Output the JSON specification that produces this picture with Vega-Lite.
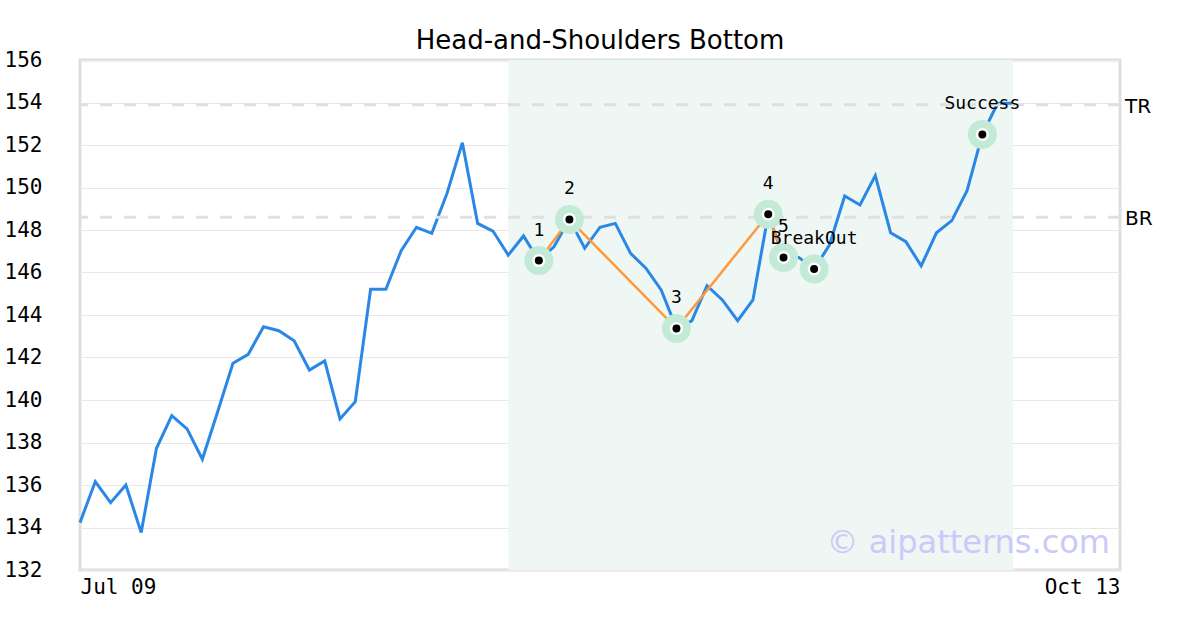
{
  "$schema": "https://vega.github.io/schema/vega-lite/v6.json",
  "autosize": "none",
  "width": 1040,
  "height": 510,
  "padding": {"left": 80, "top": 60, "right": 80, "bottom": 60},
  "background": "white",
  "title": {"text": "Head-and-Shoulders Bottom", "font": "DejaVu Sans", "fontSize": 26, "fontWeight": "normal", "color": "black", "anchor": "middle", "baseline": "alphabetic", "offset": 11, "dy": 37},
  "config": {
    "view": {"stroke": "#dedede", "strokeWidth": 3},
    "axis": {"labelFont": "DejaVu Sans Mono", "labelFontSize": 21, "labelColor": "black", "domain": false, "ticks": false, "tickSize": 0, "title": null, "gridColor": "#e8e8e8", "gridWidth": 1}
  },
  "datasets": {
    "series": [
      {"i": 0, "v": 134.23}, {"i": 1, "v": 136.16}, {"i": 2, "v": 135.17}, {"i": 3, "v": 136.0},
      {"i": 4, "v": 133.76}, {"i": 5, "v": 137.73}, {"i": 6, "v": 139.26}, {"i": 7, "v": 138.64},
      {"i": 8, "v": 137.21}, {"i": 9, "v": 139.45}, {"i": 10, "v": 141.73}, {"i": 11, "v": 142.15},
      {"i": 12, "v": 143.45}, {"i": 13, "v": 143.26}, {"i": 14, "v": 142.79}, {"i": 15, "v": 141.41},
      {"i": 16, "v": 141.84}, {"i": 17, "v": 139.11}, {"i": 18, "v": 139.92}, {"i": 19, "v": 145.21},
      {"i": 20, "v": 145.21}, {"i": 21, "v": 147.03}, {"i": 22, "v": 148.13}, {"i": 23, "v": 147.84},
      {"i": 24, "v": 149.73}, {"i": 25, "v": 152.11}, {"i": 26, "v": 148.31}, {"i": 27, "v": 147.95},
      {"i": 28, "v": 146.82}, {"i": 29, "v": 147.72}, {"i": 30, "v": 146.56}, {"i": 31, "v": 147.22},
      {"i": 32, "v": 148.5}, {"i": 33, "v": 147.14}, {"i": 34, "v": 148.13}, {"i": 35, "v": 148.31},
      {"i": 36, "v": 146.9}, {"i": 37, "v": 146.2}, {"i": 38, "v": 145.18}, {"i": 39, "v": 143.37},
      {"i": 40, "v": 143.72}, {"i": 41, "v": 145.38}, {"i": 42, "v": 144.71}, {"i": 43, "v": 143.73},
      {"i": 44, "v": 144.71}, {"i": 45, "v": 148.74}, {"i": 46, "v": 146.71}, {"i": 47, "v": 146.71},
      {"i": 48, "v": 146.16}, {"i": 49, "v": 147.29}, {"i": 50, "v": 149.6}, {"i": 51, "v": 149.18},
      {"i": 52, "v": 150.56}, {"i": 53, "v": 147.87}, {"i": 54, "v": 147.45}, {"i": 55, "v": 146.31},
      {"i": 56, "v": 147.87}, {"i": 57, "v": 148.44}, {"i": 58, "v": 149.85}, {"i": 59, "v": 152.5},
      {"i": 60, "v": 153.96}, {"i": 61, "v": 153.96}
    ],
    "pattern": [
      {"i": 30, "v": 146.56, "order": 1}, {"i": 32, "v": 148.5, "order": 2}, {"i": 39, "v": 143.37, "order": 3},
      {"i": 45, "v": 148.74, "order": 4}, {"i": 46, "v": 146.71, "order": 5}
    ],
    "markers": [
      {"i": 30, "v": 146.56, "label": "1"}, {"i": 32, "v": 148.5, "label": "2"}, {"i": 39, "v": 143.37, "label": "3"},
      {"i": 45, "v": 148.74, "label": "4"}, {"i": 46, "v": 146.71, "label": "5"}, {"i": 48, "v": 146.16, "label": "BreakOut"},
      {"i": 59, "v": 152.5, "label": "Success"}
    ],
    "levels": [{"level": 153.9, "name": "TR"}, {"level": 148.6, "name": "BR"}],
    "zone": [{"start": 28, "end": 61}]
  },
  "layer": [
    {
      "data": {"name": "zone"},
      "mark": {"type": "rect", "color": "#eef7f4"},
      "encoding": {
        "x": {"field": "start", "type": "quantitative", "scale": {"domain": [0, 68], "nice": false, "zero": false},
              "axis": {"values": [0, 68], "grid": false, "labelFlush": true, "labelPadding": 6, "labelBaseline": "top",
                       "labelExpr": "datum.value == 0 ? 'Jul 09' : 'Oct 13'"}},
        "x2": {"field": "end"}
      }
    },
    {
      "data": {"name": "series"},
      "mark": {"type": "line", "color": "#2b87e6", "strokeWidth": 3},
      "encoding": {
        "x": {"field": "i", "type": "quantitative"},
        "y": {"field": "v", "type": "quantitative", "scale": {"domain": [132, 156], "nice": false, "zero": false},
              "axis": {"values": [132, 134, 136, 138, 140, 142, 144, 146, 148, 150, 152, 154, 156], "labelPadding": 38, "grid": true}}
      }
    },
    {
      "data": {"name": "levels"},
      "mark": {"type": "rule", "color": "#e0e0e0", "strokeWidth": 3, "strokeDash": [12, 12]},
      "encoding": {"y": {"field": "level", "type": "quantitative"}}
    },
    {
      "data": {"name": "levels"},
      "mark": {"type": "text", "font": "DejaVu Sans", "fontSize": 20, "align": "left", "baseline": "middle", "dx": 5, "dy": 2, "color": "black"},
      "encoding": {"x": {"datum": 68, "type": "quantitative"}, "y": {"field": "level", "type": "quantitative"}, "text": {"field": "name"}}
    },
    {
      "data": {"name": "pattern"},
      "mark": {"type": "line", "color": "#ff9a3c", "strokeWidth": 2.5},
      "encoding": {
        "x": {"field": "i", "type": "quantitative"},
        "y": {"field": "v", "type": "quantitative"},
        "order": {"field": "order"}
      }
    },
    {
      "data": {"name": "markers"},
      "mark": {"type": "point", "shape": "circle", "filled": true, "size": 841, "color": "#c2ead6", "opacity": 1},
      "encoding": {"x": {"field": "i", "type": "quantitative"}, "y": {"field": "v", "type": "quantitative"}}
    },
    {
      "data": {"name": "markers"},
      "mark": {"type": "point", "shape": "circle", "filled": true, "size": 169, "color": "white", "opacity": 1},
      "encoding": {"x": {"field": "i", "type": "quantitative"}, "y": {"field": "v", "type": "quantitative"}}
    },
    {
      "data": {"name": "markers"},
      "mark": {"type": "point", "shape": "circle", "filled": true, "size": 64, "color": "black", "opacity": 1},
      "encoding": {"x": {"field": "i", "type": "quantitative"}, "y": {"field": "v", "type": "quantitative"}}
    },
    {
      "data": {"name": "markers"},
      "mark": {"type": "text", "font": "DejaVu Sans Mono", "fontSize": 18, "align": "center", "baseline": "middle", "dy": -30, "color": "black"},
      "encoding": {"x": {"field": "i", "type": "quantitative"}, "y": {"field": "v", "type": "quantitative"}, "text": {"field": "label"}}
    },
    {
      "data": {"values": [{"w": "© aipatterns.com"}]},
      "mark": {"type": "text", "font": "DejaVu Sans", "fontSize": 32, "align": "right", "baseline": "alphabetic", "dx": -10, "dy": -17, "color": "#cacafa"},
      "encoding": {"x": {"datum": 68, "type": "quantitative"}, "y": {"datum": 132, "type": "quantitative"}, "text": {"field": "w"}}
    }
  ]
}
